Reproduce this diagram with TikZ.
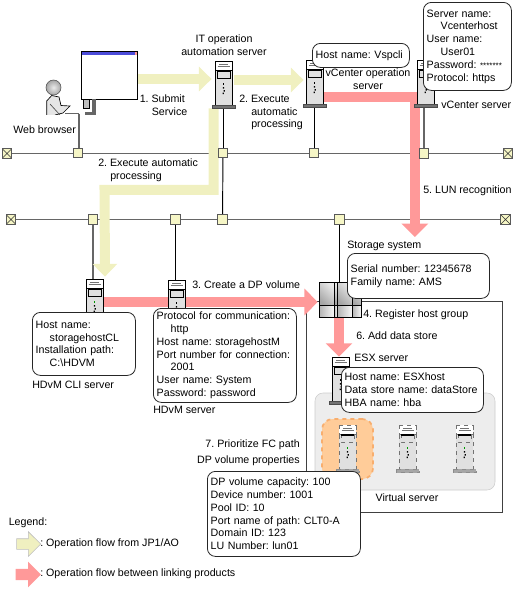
\documentclass[tikz,border=0pt]{standalone}
\usepackage{fontspec}
\setmainfont{Liberation Sans}
\usepackage{tikz}
\usetikzlibrary{arrows.meta, positioning, calc, backgrounds, shapes.arrows}
\definecolor{jpflow}{HTML}{F0F0C0}
\definecolor{linkflow}{HTML}{FF9999}
\definecolor{hubfill}{HTML}{F6F6C6}
\definecolor{hilite}{HTML}{FFCC99}
\definecolor{hiliteline}{HTML}{F8AE6E}
\newcommand{\ind}{\hspace*{10.5pt}}
\frenchspacing

\begin{document}
\begin{tikzpicture}[
    x=0.75pt, y=-0.75pt,
    font=\fontsize{8}{9.6}\selectfont,
    every node/.style={inner sep=0pt},
    lbl/.style={anchor=north west, align=left},
    clbl/.style={anchor=north, align=center},
    bubble/.style={anchor=north west, draw=black!85, fill=white, rounded corners=6pt, align=left, inner xsep=2.5pt, line width=0.6pt},
    hub/.style={draw=black!65, fill=hubfill, minimum size=7pt, line width=0.8pt},
    term/.style={draw=black!65, fill=hubfill, minimum size=7pt, line width=0.8pt,
      path picture={\draw[black!80, line width=0.5pt] (path picture bounding box.north west) -- (path picture bounding box.south east)
        (path picture bounding box.north east) -- (path picture bounding box.south west);}},
    lan/.style={draw=black!60, line width=1.1pt},
    tapgray/.style={draw=black!60, line width=1.1pt},
    tapblack/.style={draw=black, line width=0.7pt},
    flowjp/.style={draw=jpflow, line width=7.5pt, -{Triangle[length=9.5pt, width=18pt]}},
    flowlink/.style={draw=linkflow, line width=8pt, -{Triangle[length=10pt, width=19.5pt]}},
    srvline/.style={draw=black, line width=0.6pt},
    srvfoot/.style={fill=black!55, draw=black!70, line width=0.4pt},
    srvled/.style={fill=black},
    lit/.style={srvled/.style={fill=green!60!black}},
    virt/.style={lit, srvline/.style={draw=black!55, dashed, line width=0.6pt}, srvfoot/.style={fill=black!35, draw=black!45, dashed, line width=0.4pt}},
    server/.pic={
      \node[srvline, fill=black!12, minimum width=12.75pt, minimum height=33pt] (-body) at (8.5,22) {};
      \path[srvline, fill=white] (0,0) rectangle (17,9);
      \path[srvline, fill=black!12] (2,9) rectangle (15,17);
      \fill[black] (2,9) rectangle (15,11);
      \draw[black!55, line width=0.5pt] (4,3.5) -- (13,3.5) (2.5,5.5) -- (14.5,5.5);
      \path[srvled] (7.8,22) rectangle (9.2,24);
      \fill[black] (7.8,26) rectangle (9.2,27.5) (8.5,29) rectangle (9.8,30.5) (7.5,31.5) rectangle (8.8,33);
      \path[srvfoot] (-3,44) rectangle (20,47.5);
    }
  ]
  \useasboundingbox (0,0) rectangle (515,589);

  % Row 1: Browser & Servers
  \node[draw=black, fill=white, line width=0.7pt, minimum width=42pt, minimum height=36pt] (browser) at (109,75) {};
  \fill[blue!65!white!85!black] (81.5,51.5) rectangle (137,55);
  \fill[red!40] (135,51.5) rectangle (137,55);
  \pic (itsrv) at (215,61) {server};
  \pic (opsrv) at (306,60) {server};
  \pic (vcsrv) at (417,60) {server};

  % User at the desk
  \path[draw=black!70, line width=0.4pt, inner color=black!8, outer color=black!35] (53.5,87.5) circle[radius=7.5];
  \path[draw=black, fill=black!10, line width=0.5pt] (46.7,115) -- (46.7,101) -- (51.7,95.5) -- (59,97) -- (61,105.5) -- (70,106) -- (63,113) -- (55,115);
  \draw[black!70, line width=0.5pt] (50,104) -- (60,115);
  \fill[white] (46,115) rectangle (71,117);
  \draw[draw=black!60, line width=1.2pt] (65,113.5) coordinate (desk) -- (79,113.5) coordinate (deskend);
  \path[draw=black, fill=black!25, line width=0.5pt] (83,99) rectangle (89,108);
  \fill[black!60] (92,99) rectangle (96,114);
  \fill[black!60] (85,112) rectangle (96,115);

  % Row 2: LAN segments
  \node[term] (termA) at (7,153.5) {};
  \node[term] (termB) at (508,153.5) {};
  \node[hub] (hubweb) at (78,153) {};
  \node[hub] (hubit) at (223,153) {};
  \node[hub] (hubop) at (314,153) {};
  \node[hub] (hubvc) at (424,153.5) {};
  \node[term] (termC) at (11,219.5) {};
  \node[term] (termD) at (505.5,219.5) {};
  \node[hub] (hubcli) at (93,219.5) {};
  \node[hub] (hubhd) at (175.5,219.5) {};
  \node[hub] (hubmid) at (222.5,219.5) {};
  \node[hub] (hubsto) at (339.5,219.5) {};

  % Row 3: Management servers & Storage
  \pic[lit] (clisrv) at (86,279) {server};
  \pic (hdsrv) at (168,280) {server};
  \node[minimum width=31.5pt, minimum height=26.25pt] (storage) at (340,299.5) {};
  \foreach \xa/\xb in {319/334, 334/337, 337/352, 352/361} {
    \shade[draw=black, line width=0.4pt, top color=black!35, bottom color=black!8, shading angle=135] (\xa,282) rectangle (\xb,305);
    \shade[draw=black, line width=0.4pt, left color=black!30, right color=black!3] (\xa,305) rectangle (\xb,317);
  }

  % Row 4: ESX host & Virtual servers
  \node[draw=black!20, fill=black!7, rounded corners=6pt, minimum width=135pt, minimum height=72.75pt] (vmarea) at (405,441.5) {};
  \node[draw=hiliteline, fill=hilite, dashed, rounded corners=8pt, line width=1.3pt, minimum width=38.25pt, minimum height=45pt] (vmpick) at (347.5,449) {};
  \pic (esxsrv) at (332,357) {server};
  \pic[virt] (vmone) at (339,425) {server};
  \pic[virt] (vmtwo) at (399,425) {server};
  \pic[virt] (vmthree) at (456,425) {server};

  % Balloons
  \node[bubble, text width=67.75pt, minimum height=18pt] (vspbox) at (312,43) {Host name: Vspcli};
  \node[bubble, text width=61pt, minimum height=66pt] (vcbox) at (423,2) {Server name:\\\ind Vcenterhost\\User name:\\\ind User01\\\mbox{Password: {\fontsize{6}{9.6}\selectfont *******}}\\Protocol: https};
  \node[bubble, text width=72.25pt, minimum height=47.25pt] (clibox) at (32,312) {Host name:\\\ind storagehostCL\\Installation path:\\\ind C:\textbackslash HDVM};
  \node[bubble, text width=102.25pt, minimum height=70.5pt] (hdbox) at (153,308) {Protocol for communication:\\\ind http\\Host name: storagehostM\\Port number for connection:\\\ind 2001\\User name: System\\Password: password};
  \node[bubble, text width=101.5pt, minimum height=33.75pt] (stobox) at (347,253) {Serial number: 12345678\\Family name: AMS};
  \node[bubble, text width=101.5pt, minimum height=33.75pt] (esxbox) at (341,367) {Host name: ESXhost\\Data store name: dataStore\\HBA name: hba};
  \node[bubble, text width=109.75pt, minimum height=63.75pt] (dpbox) at (207,471) {DP volume capacity: 100\\Device number: 1001\\Pool ID: 10\\Port name of path: CLT0-A\\Domain ID: 123\\LU Number: lun01};

  % Lines & Flows
  \begin{scope}[on background layer]
    \node[draw=black!75, line width=0.7pt, anchor=north west, minimum width=147pt, minimum height=158.25pt] (hostframe) at (306,301) {};
    \draw[lan] (termA) -- (termB);
    \draw[lan] (termC) -- (termD);
    \draw[tapgray] (deskend) -- (deskend |- hubweb.north);
    \draw[tapblack] (hubit) -- (hubit |- itsrv-body.south);
    \draw[tapblack] (hubit) -- (hubmid);
    \draw[tapblack] (hubop) -- (hubop |- opsrv-body.south);
    \draw[tapgray] (hubvc) -- (hubvc |- vcsrv-body.south);
    \draw[tapgray] (hubcli) -- (hubcli |- clisrv-body.north);
    \draw[tapblack] (hubhd) -- (hubhd |- hdsrv-body.north);
    \draw[tapblack] (hubsto) -- (hubsto |- storage.north);

    \draw[flowjp] ($(browser.east)+(0,4)$) -- ($(itsrv-body.west)+(-3,-4)$);
    \draw[flowjp] ($(itsrv-body.east)+(2,-3)$) -- ($(opsrv-body.west)+(-2,-2)$);
    \draw[flowjp] ($(itsrv-body.south)+(-10,3)$) -- ++(0,81.5) -- ++(-109,0) -- ($(clisrv-body.north)+(10.5,-2)$);
    \draw[flowlink] ($(opsrv-body.east)+(0,15)$) -| ($(stobox.north)+(-3.5,-16)$);
    \draw[flowlink] ($(clisrv-body.east)+(0,1)$) -- ($(storage.west)+(-1,2.5)$);
    \draw[flowlink] ($(storage.south)+(-1,0)$) -- ($(esxsrv-body.north)+(-1.5,0)$);
  \end{scope}

  % Labels
  \node[clbl] (itlabel) at (224,34.5) {IT operation\\automation server};
  \node[lbl] (step1) at (139.5,94.5) {1. Submit\\\hspace*{9pt}Service};
  \node[lbl] (weblabel) at (13,125.5) {Web browser};
  \node[lbl] (step2a) at (239,94.5) {2. Execute\\\hspace*{9pt}automatic\\\hspace*{9pt}processing};
  \node[lbl] (step2b) at (98,158.5) {2. Execute automatic\\\hspace*{9pt}processing};
  \node[clbl] (oplabel) at (368,68.5) {vCenter operation\\server};
  \node[lbl] (vclabel) at (441,101) {vCenter server};
  \node[lbl] (step5) at (423,185.5) {5. LUN recognition};
  \node[lbl] (step3) at (192,280.5) {3. Create a DP volume};
  \node[lbl] (clilabel) at (32,380.5) {HDvM CLI server};
  \node[lbl] (hdlabel) at (153,405.5) {HDvM server};
  \node[lbl] (stolabel) at (347,240.5) {Storage system};
  \node[lbl] (step4) at (363,309.5) {4. Register host group};
  \node[lbl] (step6) at (356,331.5) {6. Add data store};
  \node[lbl] (esxlabel) at (354,353.5) {ESX server};
  \node[clbl] (vmlabel) at (407,493.5) {Virtual server};
  \node[anchor=north east] (step7) at (300,439.5) {7. Prioritize FC path};
  \node[anchor=north east] (dplabel) at (300,455.5) {DP volume properties};

  % Legend
  \node[lbl] (legend) at (8.5,517.5) {Legend:};
  \node[single arrow, draw=black!25, fill=jpflow, inner sep=3.75pt, minimum width=18pt, minimum height=18pt, single arrow head extend=5.25pt] (legjp) at (26,544) {};
  \node[single arrow, fill=linkflow, inner sep=4pt, minimum width=19pt, minimum height=19pt, single arrow head extend=5.5pt] (leglink) at (25.5,574.5) {};
  \node[lbl] (legjptext) at (40,538.5) {: Operation flow from JP1/AO};
  \node[lbl] (leglinktext) at (40,568.5) {: Operation flow between linking products};

  \end{tikzpicture}
\end{document}
